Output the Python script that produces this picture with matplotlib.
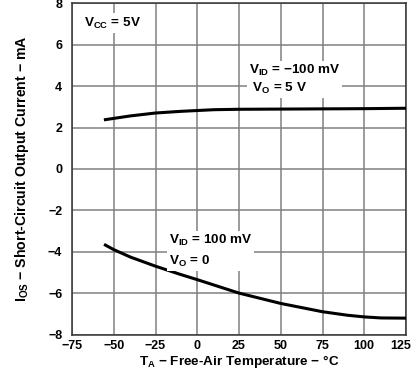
import matplotlib

matplotlib.use("Agg")
import matplotlib.pyplot as plt
from matplotlib.transforms import ScaledTranslation

# Curve data
temp_hi = [-55, -40, -25, -10, 0, 10, 25, 50, 75, 100, 125]
ios_hi = [2.38, 2.56, 2.70, 2.78, 2.82, 2.86, 2.88, 2.89, 2.90, 2.91, 2.93]

temp_lo = [-55, -50, -40, -25, -10, 0, 25, 50, 75, 90, 100, 110, 125]
ios_lo = [-3.68, -3.90, -4.26, -4.70, -5.10, -5.35, -6.00, -6.50, -6.90,
          -7.07, -7.15, -7.20, -7.21]

xticks = [-75, -50, -25, 0, 25, 50, 75, 100, 125]
yticks = [-8, -6, -4, -2, 0, 2, 4, 6, 8]

plt.rcParams["font.family"] = ["Liberation Sans", "DejaVu Sans"]
plt.rcParams["font.weight"] = "bold"
plt.rcParams["mathtext.fontset"] = "custom"
plt.rcParams["mathtext.rm"] = "Liberation Sans:bold"
plt.rcParams["mathtext.bf"] = "Liberation Sans:bold"
plt.rcParams["mathtext.it"] = "Liberation Sans:bold"
plt.rcParams["mathtext.default"] = "rm"

fig = plt.figure(figsize=(4.12, 3.73), dpi=100)
ax = fig.add_axes([72 / 412, 1 - 334.5 / 373, (406 - 72) / 412,
                   (334.5 - 3.3) / 373])

ax.plot(temp_hi, ios_hi, color="black", lw=2.2, zorder=3)
ax.plot(temp_lo, ios_lo, color="black", lw=2.2, zorder=3)

ax.set_xlim(-75, 125)
ax.set_ylim(-8, 8)
ax.set_xticks(xticks)
ax.set_yticks(yticks)
ax.grid(True, color="#808080", lw=1.1)
ax.set_axisbelow(True)
ax.tick_params(length=0, labelsize=9)
ax.tick_params(axis="x", pad=4)
ax.tick_params(axis="y", pad=7)
for lab in ax.get_xticklabels() + ax.get_yticklabels():
    lab.set_fontweight("bold")
# last x label sits at the image edge; keep it inside
last = ax.get_xticklabels()[-1]
last.set_horizontalalignment("right")
last.set_transform(last.get_transform()
                   + ScaledTranslation(5 / 100, 0, fig.dpi_scale_trans))
for s in ax.spines.values():
    s.set_color("#333333")
    s.set_linewidth(1.1)

ax.set_xlabel("T$_{A}$ − Free-Air Temperature − °C", fontsize=9.7,
              fontweight="bold", labelpad=1)
ax.set_ylabel("I$_{OS}$ − Short-Circuit Output Current − mA", fontsize=10.2,
              fontweight="bold", labelpad=12)

box = dict(facecolor="white", edgecolor="none", pad=1.5)
ax.text(-68, 7.05, "V$_{CC}$ = 5V", fontsize=9.7, fontweight="bold",
        va="center", ha="left", bbox=box)
ax.text(31, 4.33, "V$_{ID}$ = −100 mV\n V$_{O}$ = 5 V", fontsize=9.7,
        fontweight="bold", va="center", ha="left", bbox=box, linespacing=1.25)
ax.text(-17, -3.97, "V$_{ID}$ = 100 mV\nV$_{O}$ = 0", fontsize=9.7,
        fontweight="bold", va="center", ha="left", bbox=box, linespacing=1.6)

fig.savefig("out.png", dpi=100)
